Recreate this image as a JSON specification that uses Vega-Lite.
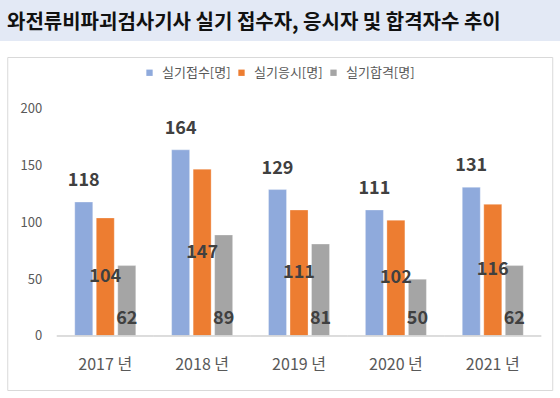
{
  "$schema": "https://vega.github.io/schema/vega-lite/v6.json",
  "padding": 0,
  "background": "white",
  "spacing": 15,
  "center": true,
  "config": {"font": "Noto Sans CJK KR"},
  "vconcat": [
    {
      "width": 560,
      "height": 41,
      "view": {"fill": "#E3E9F5", "stroke": null},
      "title": {"text": "와전류비파괴검사기사 실기 접수자, 응시자 및 합격자수 추이", "anchor": "start", "frame": "group", "offset": -33, "dx": 7, "fontSize": 20, "fontWeight": "bold", "color": "#111111", "font": "Noto Sans CJK KR"},
      "data": {"values": [{"k": 1}]},
      "mark": {"type": "point", "opacity": 0},
      "encoding": {}
    },
    {
      "width": 545,
      "height": 333,
      "view": {"stroke": "#D9D9D9", "strokeWidth": 1, "fill": "white"},
      "data": {"values": [
        {"year": "2017 년", "s": "실기접수[명]", "v": 118},
        {"year": "2017 년", "s": "실기응시[명]", "v": 104},
        {"year": "2017 년", "s": "실기합격[명]", "v": 62},
        {"year": "2018 년", "s": "실기접수[명]", "v": 164},
        {"year": "2018 년", "s": "실기응시[명]", "v": 147},
        {"year": "2018 년", "s": "실기합격[명]", "v": 89},
        {"year": "2019 년", "s": "실기접수[명]", "v": 129},
        {"year": "2019 년", "s": "실기응시[명]", "v": 111},
        {"year": "2019 년", "s": "실기합격[명]", "v": 81},
        {"year": "2020 년", "s": "실기접수[명]", "v": 111},
        {"year": "2020 년", "s": "실기응시[명]", "v": 102},
        {"year": "2020 년", "s": "실기합격[명]", "v": 50},
        {"year": "2021 년", "s": "실기접수[명]", "v": 131},
        {"year": "2021 년", "s": "실기응시[명]", "v": 116},
        {"year": "2021 년", "s": "실기합격[명]", "v": 62}
      ]},
      "encoding": {
        "x": {
          "field": "year", "type": "nominal", "title": null,
          "scale": {"paddingInner": 0, "paddingOuter": 0.3128, "align": 0.818},
          "axis": {
            "domain": false, "ticks": false, "orient": "bottom", "offset": -54, "labelPadding": 20,
            "labelFontSize": 16, "labelColor": "#595959", "labelAngle": 0, "labelFont": "Noto Sans CJK KR",
            "encode": {"labels": {"update": {"dx": {"signal": "-8.5 - 6.4*(toNumber(slice(datum.value,0,4))-2017)"}}}}
          }
        },
        "xOffset": {
          "field": "s", "type": "nominal",
          "scale": {"domain": ["실기접수[명]", "실기응시[명]", "실기합격[명]"], "paddingInner": 0.163, "paddingOuter": 0.834}
        }
      },
      "layer": [
        {
          "layer": [
            {
              "mark": {"type": "bar", "stroke": "white", "strokeWidth": 0.6, "strokeOpacity": 0.5},
              "encoding": {
                "y": {
                  "field": "v", "type": "quantitative", "title": null,
                  "scale": {"domain": [-47.58, 245.8], "nice": false, "zero": false},
                  "axis": {"values": [0, 50, 100, 150, 200], "domain": false, "ticks": false, "grid": false, "offset": -34.5, "labelPadding": 0, "labelFontSize": 13, "labelColor": "#595959", "labelFont": "Noto Sans CJK KR"}
                },
                "color": {
                  "field": "s", "type": "nominal",
                  "scale": {"domain": ["실기접수[명]", "실기응시[명]", "실기합격[명]"], "range": ["#8FAADC", "#ED7D31", "#A5A5A5"]},
                  "legend": {"orient": "none", "legendX": 143, "legendY": 66, "direction": "horizontal", "title": null, "symbolType": "square", "symbolSize": 40, "symbolStrokeWidth": 0, "labelFontSize": 13, "labelColor": "#595959", "labelFont": "Noto Sans CJK KR", "columnPadding": 4, "labelOffset": 6, "padding": 0}
                }
              }
            },
            {
              "mark": {"type": "rule", "color": "#D9D9D9", "strokeWidth": 1},
              "encoding": {
                "x": {"field": "year", "type": "nominal", "bandPosition": 0},
                "x2": {"field": "year", "bandPosition": 1},
                "xOffset": null,
                "y": {"datum": 0, "type": "quantitative", "scale": {"domain": [-47.58, 245.8], "nice": false, "zero": false}}
              }
            },
            {
              "transform": [{"filter": "datum.s == '실기접수[명]'"}],
              "mark": {"type": "text", "dy": -21, "baseline": "middle", "align": "center", "fontSize": 18, "fontWeight": "bold", "color": "#404040"},
              "encoding": {
                "y": {"field": "v", "type": "quantitative", "scale": {"domain": [-47.58, 245.8], "nice": false, "zero": false}},
                "text": {"field": "v", "type": "quantitative"}
              }
            },
            {
              "transform": [{"filter": "datum.s == '실기합격[명]'"}],
              "mark": {"type": "text", "dy": -17, "baseline": "middle", "align": "center", "fontSize": 18, "fontWeight": "bold", "color": "#404040"},
              "encoding": {
                "y": {"datum": 0, "type": "quantitative", "scale": {"domain": [-47.58, 245.8], "nice": false, "zero": false}},
                "text": {"field": "v", "type": "quantitative"}
              }
            }
          ]
        },
        {
          "transform": [{"filter": "datum.s == '실기응시[명]'"}],
          "mark": {"type": "text", "baseline": "middle", "align": "center", "fontSize": 18, "fontWeight": "bold", "color": "#404040"},
          "encoding": {
            "y": {"field": "v", "type": "quantitative", "scale": {"domain": [-95.16, 491.6], "nice": false, "zero": false}, "axis": null},
            "text": {"field": "v", "type": "quantitative"}
          }
        }
      ],
      "resolve": {"scale": {"y": "independent"}}
    }
  ]
}
